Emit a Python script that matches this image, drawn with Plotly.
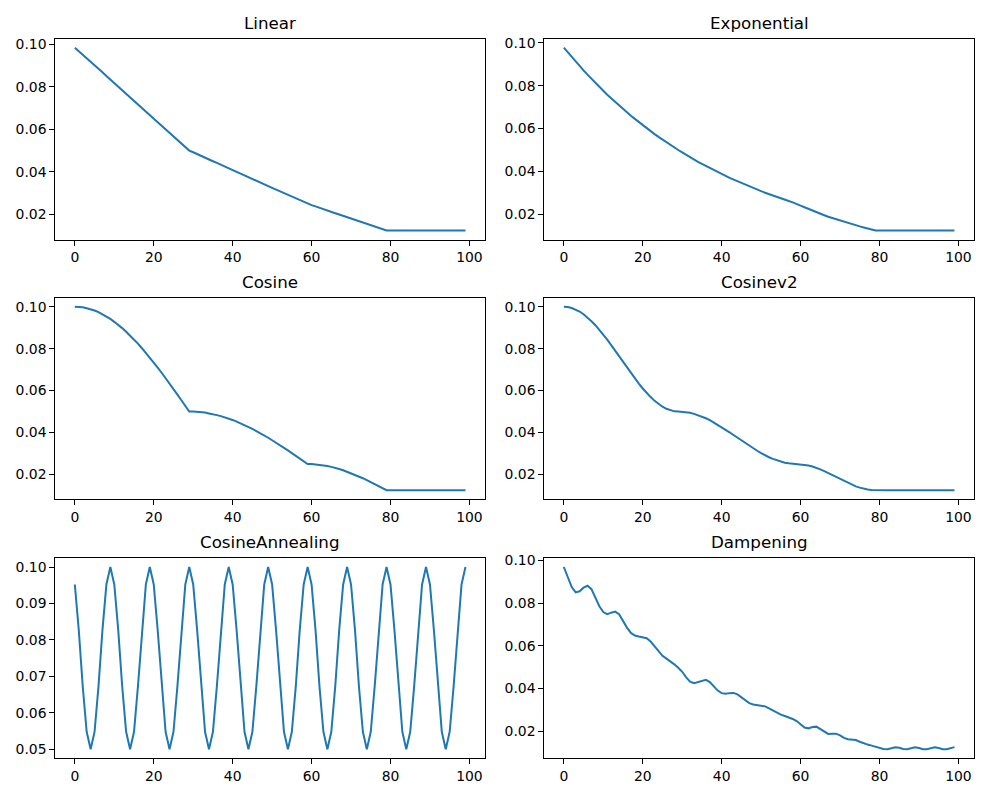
import plotly.graph_objects as go

steps = list(range(100))

titles = ["Linear", "Exponential", "Cosine", "Cosinev2", "CosineAnnealing", "Dampening"]

linear_lr = [
    0.0983, 0.0967, 0.0950, 0.0933, 0.0917, 0.0900, 0.0883, 0.0867, 0.0850, 0.0833,
    0.0817, 0.0800, 0.0783, 0.0767, 0.0750, 0.0733, 0.0717, 0.0700, 0.0683, 0.0667,
    0.0650, 0.0633, 0.0617, 0.0600, 0.0583, 0.0567, 0.0550, 0.0533, 0.0517, 0.0500,
    0.0492, 0.0483, 0.0475, 0.0467, 0.0458, 0.0450, 0.0442, 0.0433, 0.0425, 0.0417,
    0.0408, 0.0400, 0.0392, 0.0383, 0.0375, 0.0367, 0.0358, 0.0350, 0.0342, 0.0333,
    0.0325, 0.0317, 0.0308, 0.0300, 0.0292, 0.0283, 0.0275, 0.0267, 0.0258, 0.0250,
    0.0244, 0.0238, 0.0231, 0.0225, 0.0219, 0.0213, 0.0206, 0.0200, 0.0194, 0.0188,
    0.0181, 0.0175, 0.0169, 0.0163, 0.0156, 0.0150, 0.0144, 0.0138, 0.0131, 0.0125,
    0.0125, 0.0125, 0.0125, 0.0125, 0.0125, 0.0125, 0.0125, 0.0125, 0.0125, 0.0125,
    0.0125, 0.0125, 0.0125, 0.0125, 0.0125, 0.0125, 0.0125, 0.0125, 0.0125, 0.0125,
]

exponential_lr = [
    0.0977, 0.0955, 0.0933, 0.0912, 0.0891, 0.0871, 0.0851, 0.0831, 0.0812, 0.0794,
    0.0776, 0.0758, 0.0741, 0.0724, 0.0707, 0.0691, 0.0675, 0.0660, 0.0645, 0.0630,
    0.0616, 0.0602, 0.0588, 0.0574, 0.0561, 0.0548, 0.0536, 0.0524, 0.0512, 0.0500,
    0.0489, 0.0477, 0.0467, 0.0456, 0.0445, 0.0435, 0.0425, 0.0416, 0.0406, 0.0397,
    0.0388, 0.0379, 0.0370, 0.0362, 0.0354, 0.0345, 0.0338, 0.0330, 0.0322, 0.0315,
    0.0308, 0.0301, 0.0294, 0.0287, 0.0281, 0.0274, 0.0268, 0.0262, 0.0256, 0.0250,
    0.0241, 0.0233, 0.0225, 0.0218, 0.0210, 0.0203, 0.0196, 0.0189, 0.0183, 0.0177,
    0.0171, 0.0165, 0.0159, 0.0154, 0.0149, 0.0144, 0.0139, 0.0134, 0.0129, 0.0125,
    0.0125, 0.0125, 0.0125, 0.0125, 0.0125, 0.0125, 0.0125, 0.0125, 0.0125, 0.0125,
    0.0125, 0.0125, 0.0125, 0.0125, 0.0125, 0.0125, 0.0125, 0.0125, 0.0125, 0.0125,
]

cosine_lr = [
    0.1000, 0.0999, 0.0997, 0.0993, 0.0988, 0.0982, 0.0974, 0.0964, 0.0954, 0.0942,
    0.0928, 0.0914, 0.0898, 0.0881, 0.0863, 0.0844, 0.0824, 0.0802, 0.0780, 0.0757,
    0.0734, 0.0710, 0.0685, 0.0660, 0.0634, 0.0607, 0.0581, 0.0554, 0.0527, 0.0500,
    0.0500, 0.0499, 0.0497, 0.0495, 0.0491, 0.0488, 0.0483, 0.0478, 0.0473, 0.0467,
    0.0460, 0.0452, 0.0444, 0.0436, 0.0427, 0.0417, 0.0407, 0.0397, 0.0386, 0.0375,
    0.0363, 0.0352, 0.0340, 0.0327, 0.0315, 0.0302, 0.0289, 0.0276, 0.0263, 0.0250,
    0.0250, 0.0248, 0.0247, 0.0244, 0.0240, 0.0236, 0.0232, 0.0226, 0.0220, 0.0213,
    0.0206, 0.0198, 0.0190, 0.0182, 0.0173, 0.0164, 0.0154, 0.0145, 0.0135, 0.0125,
    0.0125, 0.0125, 0.0125, 0.0125, 0.0125, 0.0125, 0.0125, 0.0125, 0.0125, 0.0125,
    0.0125, 0.0125, 0.0125, 0.0125, 0.0125, 0.0125, 0.0125, 0.0125, 0.0125, 0.0125,
]

cosinev2_lr = [
    0.1000, 0.0999, 0.0994, 0.0987, 0.0977, 0.0964, 0.0949, 0.0931, 0.0912, 0.0890,
    0.0867, 0.0843, 0.0817, 0.0790, 0.0764, 0.0736, 0.0710, 0.0683, 0.0657, 0.0633,
    0.0610, 0.0588, 0.0569, 0.0551, 0.0536, 0.0523, 0.0513, 0.0506, 0.0501, 0.0500,
    0.0499, 0.0497, 0.0494, 0.0489, 0.0483, 0.0476, 0.0468, 0.0459, 0.0448, 0.0438,
    0.0426, 0.0414, 0.0401, 0.0388, 0.0375, 0.0362, 0.0349, 0.0336, 0.0324, 0.0313,
    0.0302, 0.0291, 0.0282, 0.0274, 0.0267, 0.0261, 0.0256, 0.0253, 0.0251, 0.0250,
    0.0249, 0.0247, 0.0243, 0.0238, 0.0232, 0.0224, 0.0216, 0.0207, 0.0197, 0.0188,
    0.0178, 0.0168, 0.0159, 0.0151, 0.0143, 0.0137, 0.0132, 0.0128, 0.0126, 0.0125,
    0.0125, 0.0125, 0.0125, 0.0125, 0.0125, 0.0125, 0.0125, 0.0125, 0.0125, 0.0125,
    0.0125, 0.0125, 0.0125, 0.0125, 0.0125, 0.0125, 0.0125, 0.0125, 0.0125, 0.0125,
]

cosine_annealing_lr = [
    0.0952, 0.0827, 0.0673, 0.0548, 0.0500, 0.0548, 0.0673, 0.0827, 0.0952, 0.1000,
    0.0952, 0.0827, 0.0673, 0.0548, 0.0500, 0.0548, 0.0673, 0.0827, 0.0952, 0.1000,
    0.0952, 0.0827, 0.0673, 0.0548, 0.0500, 0.0548, 0.0673, 0.0827, 0.0952, 0.1000,
    0.0952, 0.0827, 0.0673, 0.0548, 0.0500, 0.0548, 0.0673, 0.0827, 0.0952, 0.1000,
    0.0952, 0.0827, 0.0673, 0.0548, 0.0500, 0.0548, 0.0673, 0.0827, 0.0952, 0.1000,
    0.0952, 0.0827, 0.0673, 0.0548, 0.0500, 0.0548, 0.0673, 0.0827, 0.0952, 0.1000,
    0.0952, 0.0827, 0.0673, 0.0548, 0.0500, 0.0548, 0.0673, 0.0827, 0.0952, 0.1000,
    0.0952, 0.0827, 0.0673, 0.0548, 0.0500, 0.0548, 0.0673, 0.0827, 0.0952, 0.1000,
    0.0952, 0.0827, 0.0673, 0.0548, 0.0500, 0.0548, 0.0673, 0.0827, 0.0952, 0.1000,
    0.0952, 0.0827, 0.0673, 0.0548, 0.0500, 0.0548, 0.0673, 0.0827, 0.0952, 0.1000,
]

dampening_lr = [
    0.0969, 0.0925, 0.0875, 0.0850, 0.0855, 0.0872, 0.0881, 0.0865, 0.0825, 0.0785,
    0.0758, 0.0748, 0.0755, 0.0760, 0.0748, 0.0715, 0.0685, 0.0660, 0.0648, 0.0643,
    0.0640, 0.0635, 0.0620, 0.0597, 0.0573, 0.0553, 0.0540, 0.0528, 0.0513, 0.0497,
    0.0478, 0.0452, 0.0432, 0.0425, 0.0430, 0.0438, 0.0440, 0.0430, 0.0410, 0.0390,
    0.0378, 0.0375, 0.0378, 0.0379, 0.0372, 0.0358, 0.0342, 0.0331, 0.0325, 0.0323,
    0.0321, 0.0316, 0.0307, 0.0296, 0.0285, 0.0277, 0.0271, 0.0265, 0.0257, 0.0247,
    0.0232, 0.0217, 0.0213, 0.0219, 0.0221, 0.0210, 0.0195, 0.0187, 0.0188, 0.0188,
    0.0180, 0.0168, 0.0162, 0.0160, 0.0158, 0.0150, 0.0142, 0.0137, 0.0132, 0.0127,
    0.0122, 0.0116, 0.0115, 0.0119, 0.0124, 0.0122, 0.0116, 0.0115, 0.0120, 0.0124,
    0.0121, 0.0115, 0.0115, 0.0120, 0.0124, 0.0121, 0.0115, 0.0115, 0.0120, 0.0125,
]

series = [linear_lr, exponential_lr, cosine_lr, cosinev2_lr, cosine_annealing_lr, dampening_lr]
y_dticks = [0.02, 0.02, 0.02, 0.02, 0.01, 0.02]

W, H = 1000, 800
# page offset of the plot div inside the browser window
DX, DY = 8, 11
col_px = [(55.3, 485.0), (544.3, 974.0)]
row_px = [(35.7, 238.3), (296.7, 500.0), (559.0, 761.0)]

fig = go.Figure()
annotations = []
font_family = "DejaVu Sans"
for k, (title, ys) in enumerate(zip(titles, series)):
    r, c = divmod(k, 2)
    n = k + 1
    xa = "x" if n == 1 else f"x{n}"
    ya = "y" if n == 1 else f"y{n}"
    fig.add_trace(go.Scatter(
        x=steps, y=ys, mode="lines",
        line=dict(color="#1f77b4", width=2.0),
        xaxis=xa, yaxis=ya, showlegend=False, hoverinfo="x+y",
    ))
    x0, x1 = col_px[c]
    ytop, ybot = row_px[r]
    xdom = [(x0 - DX) / W, (x1 - DX) / W]
    ydom = [1 - (ybot - DY) / H, 1 - (ytop - DY) / H]
    ymin, ymax = min(ys), max(ys)
    span = ymax - ymin
    xmin, xmax = min(steps), max(steps)
    xspan = xmax - xmin
    common = dict(
        showline=True, mirror=True, linecolor="black", linewidth=1,
        ticks="outside", ticklen=5, tickwidth=1, tickcolor="black",
        showgrid=False, zeroline=False,
        tickfont=dict(family=font_family, size=13.9, color="black"),
    )
    fig.update_layout(**{
        ("xaxis" if n == 1 else f"xaxis{n}"): dict(
            domain=xdom, anchor=ya,
            range=[xmin - 0.05 * xspan, xmax + 0.05 * xspan],
            tick0=0, dtick=20, **common),
        ("yaxis" if n == 1 else f"yaxis{n}"): dict(
            domain=ydom, anchor=xa,
            range=[ymin - 0.05 * span, ymax + 0.05 * span],
            tick0=0, dtick=y_dticks[k], tickformat=".2f", **common),
    })
    annotations.append(dict(
        text=title, xref="paper", yref="paper",
        x=(xdom[0] + xdom[1]) / 2, y=ydom[1],
        xanchor="center", yanchor="bottom", yshift=4, showarrow=False,
        font=dict(family=font_family, size=16.7, color="black"),
    ))

fig.update_layout(
    width=W, height=H,
    margin=dict(l=0, r=0, t=0, b=0),
    paper_bgcolor="white", plot_bgcolor="white",
    annotations=annotations,
    font=dict(family=font_family, color="black"),
)

fig.write_html("out.html")
